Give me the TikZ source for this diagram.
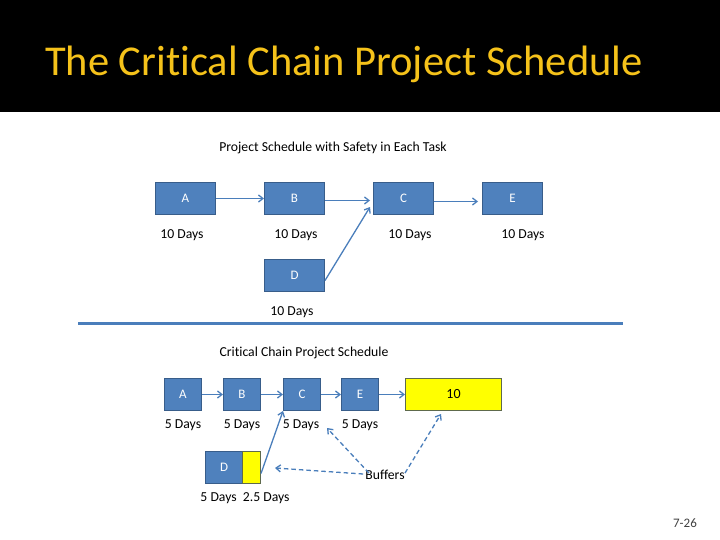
\documentclass[tikz,border=0pt]{standalone}
\usepackage{fontspec}
\setmainfont[Ligatures=NoCommon]{Carlito}
\usetikzlibrary{arrows.meta}
\definecolor{boxblue}{HTML}{4F81BD}
\definecolor{boxedge}{HTML}{385D8A}
\definecolor{arrowblue}{HTML}{4A7EBB}
\definecolor{titleyellow}{HTML}{F5C21A}
\definecolor{bufyellow}{HTML}{FFFF00}
\definecolor{bufedge}{HTML}{5E6A4C}
\tikzset{
  task/.style={draw=boxedge, line width=1pt, fill=boxblue, text=white, font=\fontsize{13}{15}\selectfont, inner sep=0pt, anchor=north west},
  buf/.style={draw=bufedge, line width=1pt, fill=bufyellow, text=black, font=\fontsize{14}{16}\selectfont, inner sep=0pt, anchor=north west},
  lbl/.style={font=\fontsize{13.7}{16}\selectfont, text=black, inner sep=0pt},
  conn/.style={draw=arrowblue, line width=1.3pt, -{Straight Barb[length=4.5pt,width=7pt]}},
  dconn/.style={conn, dash pattern=on 4.5pt off 3pt},
}
\begin{document}
\begin{tikzpicture}[x=1pt,y=-1pt]
\useasboundingbox (0,0) rectangle (720,540);
\fill[black] (0,0) rectangle (720,112);
\node[anchor=base west, text=titleyellow, font=\fontsize{42.5}{46}\selectfont, inner sep=0pt] (title) at (45,76) {The Critical Chain Project Schedule};
% top diagram
\node[lbl] (t1) at (333,148) {Project Schedule with Safety in Each Task};
\node[task, minimum width=60pt, minimum height=32pt] (A) at (155,182) {A};
\node[task, minimum width=60pt, minimum height=32pt] (B) at (264,182) {B};
\node[task, minimum width=60pt, minimum height=32pt] (C) at (373,182) {C};
\node[task, minimum width=60pt, minimum height=32pt] (E) at (482,182) {E};
\node[task, minimum width=60pt, minimum height=32pt] (D) at (264,259) {D};
\node[lbl] (la) at (182,235) {10 Days};
\node[lbl] (lb) at (296,235) {10 Days};
\node[lbl] (lc) at (410,235) {10 Days};
\node[lbl] (le) at (523,235) {10 Days};
\node[lbl] (ld) at (292,312) {10 Days};
\draw[conn] (A.east) -- (B.west);
\draw[conn] ([yshift=-2pt]B.east) -- ([xshift=-3pt,yshift=-2pt]C.west);
\draw[conn] ([yshift=-3pt]C.east) -- ([xshift=-4pt,yshift=-3pt]E.west);
\draw[conn] ([yshift=-5pt]D.east) -- ([xshift=-3pt,yshift=8pt]C.south west);
% separator
\draw[arrowblue, line width=3pt] (78,323) coordinate (s1) -- (623,323) coordinate (s2);
% bottom diagram
\node[lbl] (t2) at (304,353) {Critical Chain Project Schedule};
\node[task, minimum width=37pt, minimum height=32pt] (A2) at (164,378) {A};
\node[task, minimum width=37pt, minimum height=32pt] (B2) at (223,378) {B};
\node[task, minimum width=37pt, minimum height=32pt] (C2) at (283,378) {C};
\node[task, minimum width=37pt, minimum height=32pt] (E2) at (341,378) {E};
\node[buf, minimum width=96pt, minimum height=32pt] (P2) at (405,378) {10};
\node[task, minimum width=37pt, minimum height=32pt] (D2) at (205,451) {D};
\node[buf, minimum width=18pt, minimum height=32pt] (DB) at (242,451) {};
\node[lbl] (la2) at (183,425) {5 Days};
\node[lbl] (lb2) at (242,425) {5 Days};
\node[lbl] (lc2) at (301,425) {5 Days};
\node[lbl] (le2) at (360,425) {5 Days};
\node[lbl] (ld2) at (245,498) {5 Days\ \ 2.5 Days};
\node[lbl] (bufs) at (385,475) {Buffers};
\draw[conn] (A2.east) -- (B2.west);
\draw[conn] (B2.east) -- (C2.west);
\draw[conn] (C2.east) -- (E2.west);
\draw[conn] (E2.east) -- (P2.west);
\draw[conn] ([yshift=-6pt]DB.east) -- (C2.south west);
\coordinate (b1) at (275,468);
\coordinate (b2) at (327,428);
\coordinate (b3) at (441,414);
\draw[dconn] ([xshift=-2pt,yshift=1pt]bufs.west) -- (b1);
\draw[dconn] ([xshift=-16pt,yshift=-3pt]bufs.north) -- (b2);
\draw[dconn] ([xshift=20pt,yshift=-3pt]bufs.north) -- (b3);
\node[font=\fontsize{13}{15}\selectfont, text=black!75, inner sep=0pt] (pg) at (685,523) {7-26};
\end{tikzpicture}
\end{document}
